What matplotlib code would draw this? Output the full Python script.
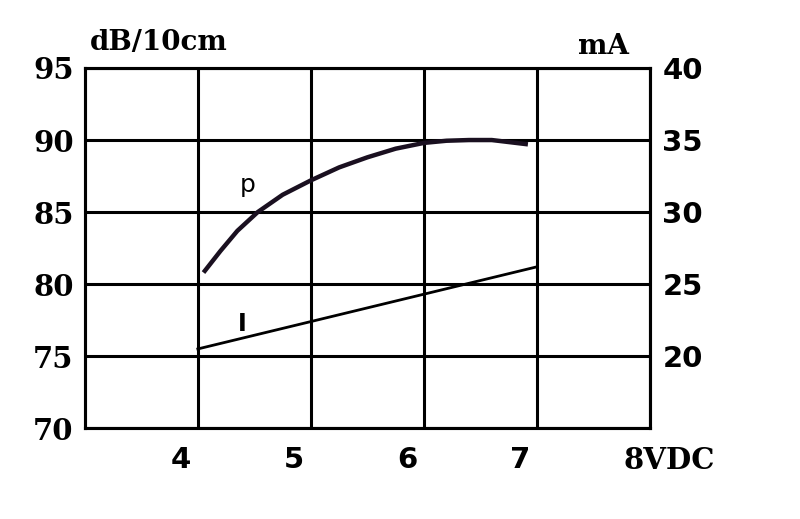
import matplotlib
matplotlib.use('Agg')
import matplotlib.pyplot as plt
from matplotlib.transforms import ScaledTranslation

# Sound pressure level p (dB/10cm) vs supply voltage
p_volts = [4.05, 4.2, 4.35, 4.53, 4.75, 5.0, 5.25, 5.5, 5.75, 6.0, 6.2, 6.4, 6.6, 6.92]
p_db = [80.8, 82.3, 83.7, 85.0, 86.2, 87.2, 88.1, 88.8, 89.4, 89.8, 89.95, 90.0, 90.0, 89.7]

# Current I (mA) vs supply voltage
i_volts = [4.0, 5.0, 6.0, 7.0]
i_ma = [20.5, 22.4, 24.3, 26.2]

x_ticks = [4, 5, 6, 7, 8]
x_labels = ['4', '5', '6', '7', '8VDC']
left_ticks = [70, 75, 80, 85, 90, 95]
right_ticks = [20, 25, 30, 35, 40]

SERIF = 'DejaVu Serif'
SANS = 'DejaVu Sans'

fig = plt.figure(figsize=(8, 5.19), dpi=100)
ax = fig.add_axes([0.106, 0.175, 0.7065, 0.694])
ax2 = ax.twinx()

ax.set_xlim(3, 8)
ax.set_ylim(70, 95)
ax2.set_ylim(15, 40)

ax.set_xticks(x_ticks)
ax.set_xticklabels(x_labels)
ax.set_yticks(left_ticks)
ax2.set_yticks(right_ticks)

ax.grid(True, color='black', linewidth=2.2)
ax.set_axisbelow(True)

for a in (ax, ax2):
    for s in a.spines.values():
        s.set_linewidth(2.2)
        s.set_color('black')
    a.tick_params(length=0)

ax.tick_params(axis='y', pad=8)
ax2.tick_params(axis='y', pad=9)
ax.tick_params(axis='x', pad=13)

for lab in ax.get_yticklabels():
    lab.set_fontfamily(SERIF)
    lab.set_fontsize(21)
    lab.set_fontweight('bold')
for lab in ax2.get_yticklabels():
    lab.set_fontfamily(SANS)
    lab.set_fontsize(21)
    lab.set_fontweight('bold')

off = ScaledTranslation(-27 / 100, 0, fig.dpi_scale_trans)
for lab in ax.get_xticklabels():
    lab.set_fontfamily(SERIF if 'VDC' in lab.get_text() else SANS)
    lab.set_fontsize(21)
    lab.set_fontweight('bold')
    lab.set_horizontalalignment('left')
    lab.set_transform(lab.get_transform() + off)

ax.plot(p_volts, p_db, color='#1a1020', linewidth=3.2, solid_capstyle='butt')
ax2.plot(i_volts, i_ma, color='black', linewidth=2.0)

ax.text(4.44, 86.9, 'p', fontsize=18, fontfamily=SANS, ha='center', va='center')
ax2.text(4.39, 22.2, 'I', fontsize=17, fontfamily=SANS, fontweight='bold',
         ha='center', va='center')

fig.text(90 / 800, 1 - 43 / 519, 'dB/10cm', fontsize=20, fontfamily=SERIF,
         fontweight='bold', ha='left', va='center')
fig.text(578 / 800, 1 - 46 / 519, 'mA', fontsize=20, fontfamily=SERIF,
         fontweight='bold', ha='left', va='center')

fig.savefig('out.png', dpi=100, facecolor='white')
